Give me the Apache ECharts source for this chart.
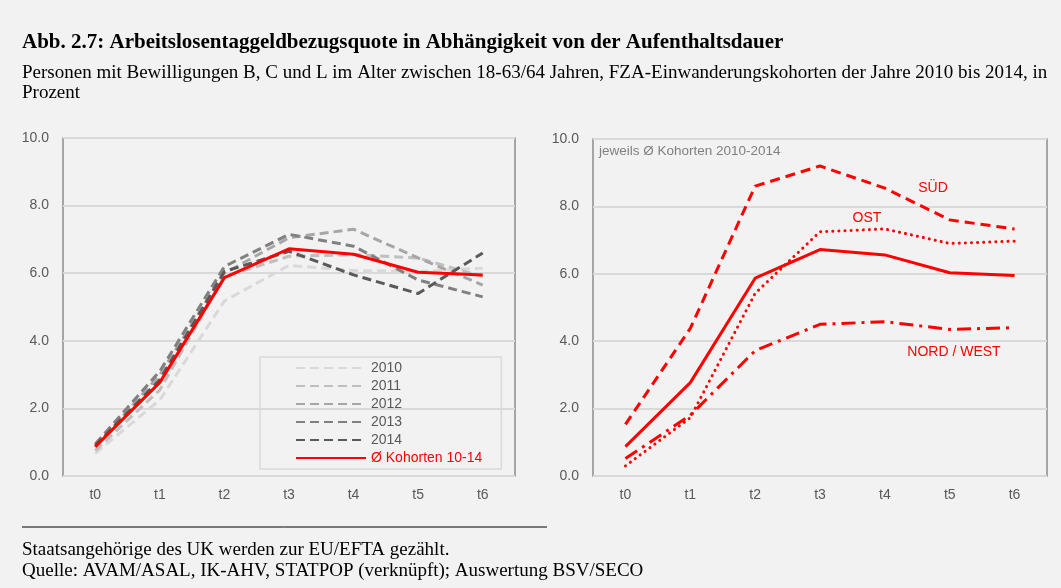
<!DOCTYPE html>
<html>
<head>
<meta charset="utf-8">
<script src="https://cdn.jsdelivr.net/npm/echarts@6/dist/echarts.min.js"></script>
<style>
  html, body { margin: 0; padding: 0; background: #f2f2f2; }
  #chart { width: 1061px; height: 588px; }
</style>
</head>
<body>
<div id="chart"></div>
<script>
const categories = ["t0", "t1", "t2", "t3", "t4", "t5", "t6"];

// linke Grafik: Kohorten
const k2010 = [0.67, 2.25, 5.18, 6.23, 6.08, 6.05, 6.15];
const k2011 = [0.75, 2.55, 5.9, 6.5, 6.55, 6.45, 5.9];
const k2012 = [0.85, 3.0, 6.0, 7.05, 7.3, 6.45, 5.65];
const k2013 = [0.95, 3.1, 6.2, 7.15, 6.8, 5.8, 5.3];
const k2014 = [0.9, 2.85, 6.05, 6.65, 5.95, 5.4, 6.6];
const avg = [0.87, 2.77, 5.87, 6.72, 6.56, 6.03, 5.95];

// rechte Grafik: Regionen
const sued = [1.53, 4.38, 8.6, 9.2, 8.54, 7.6, 7.33];
const ost = [0.3, 1.73, 5.42, 7.25, 7.33, 6.9, 6.97];
const nordWest = [0.52, 1.8, 3.72, 4.5, 4.58, 4.35, 4.4];

const yTicks = { min: 0, max: 10, interval: 2 };

const axisFont = "'Liberation Sans Narrow', 'Arial Narrow', Arial, sans-serif";
const serif = "'Liberation Serif', 'Times New Roman', serif";

function xAxis(idx) {
  return {
    type: "category",
    gridIndex: idx,
    data: categories,
    axisLine: { show: false },
    axisTick: { show: false },
    axisLabel: { color: "#595959", fontSize: 14, fontFamily: axisFont, margin: 12 },
  };
}
function yAxis(idx) {
  return {
    type: "value",
    gridIndex: idx,
    min: yTicks.min,
    max: yTicks.max,
    interval: yTicks.interval,
    axisLine: { show: false },
    axisTick: { show: false },
    axisLabel: {
      color: "#595959",
      fontSize: 14,
      fontFamily: axisFont,
      margin: 14,
      formatter: (v) => v.toFixed(1),
    },
    splitLine: { lineStyle: { color: "#d9d9d9", width: 2 } },
  };
}
function dashed(name, data, color) {
  return {
    name: name,
    type: "line",
    xAxisIndex: 0,
    yAxisIndex: 0,
    data: data,
    symbol: "none",
    lineStyle: { color: color, width: 3, type: [9, 5] },
    itemStyle: { color: color },
    z: 2,
  };
}

const myChart = echarts.init(document.getElementById("chart"));
const option = {
  backgroundColor: "#f2f2f2",
  animation: false,
  title: [
    {
      text: "Abb. 2.7: Arbeitslosentaggeldbezugsquote in Abhängigkeit von der Aufenthaltsdauer",
      left: 22,
      top: 32,
      padding: 0,
      textStyle: { fontFamily: serif, fontSize: 21, fontWeight: "bold", color: "#000", lineHeight: 22 },
    },
    {
      text:
        "Personen mit Bewilligungen B, C und L im Alter zwischen 18-63/64 Jahren, FZA-Einwanderungskohorten der Jahre 2010 bis 2014, in\nProzent",
      left: 22,
      top: 63,
      padding: 0,
      textStyle: { fontFamily: serif, fontSize: 19, fontWeight: "normal", color: "#000", lineHeight: 20 },
    },
    {
      text: "Staatsangehörige des UK werden zur EU/EFTA gezählt.\nQuelle: AVAM/ASAL, IK-AHV, STATPOP (verknüpft); Auswertung BSV/SECO",
      left: 22,
      top: 540,
      padding: 0,
      textStyle: { fontFamily: serif, fontSize: 19, fontWeight: "normal", color: "#000", lineHeight: 21 },
    },
  ],
  grid: [
    { left: 63, top: 138, width: 452, height: 338, show: true, borderColor: "#8c8c8c", borderWidth: 1.5, backgroundColor: "transparent" },
    { left: 593, top: 139, width: 454, height: 337, show: true, borderColor: "#8c8c8c", borderWidth: 1.5, backgroundColor: "transparent" },
  ],
  xAxis: [xAxis(0), xAxis(1)],
  yAxis: [yAxis(0), yAxis(1)],
  legend: {
    left: 260,
    top: 357,
    orient: "vertical",
    itemWidth: 70,
    itemHeight: 14,
    itemGap: 4,
    padding: [4, 19, 4, 35],
    borderColor: "#d9d9d9",
    borderWidth: 1.5,
    itemStyle: { opacity: 0 },
    textStyle: { color: "#595959", fontSize: 14, fontFamily: axisFont },
    data: [
      "2010",
      "2011",
      "2012",
      "2013",
      "2014",
      { name: "Ø Kohorten 10-14", textStyle: { color: "#ff0000" } },
    ],
  },
  graphic: [
    {
      type: "text",
      left: 599,
      top: 144,
      style: { text: "jeweils Ø Kohorten 2010-2014", fill: "#808080", fontSize: 13.5, fontFamily: axisFont },
    },
    {
      type: "text",
      x: 933,
      y: 188,
      style: { text: "SÜD", fill: "#ff0000", fontSize: 14, fontFamily: axisFont, align: "center", verticalAlign: "middle" },
    },
    {
      type: "text",
      x: 867,
      y: 218,
      style: { text: "OST", fill: "#ff0000", fontSize: 14, fontFamily: axisFont, align: "center", verticalAlign: "middle" },
    },
    {
      type: "text",
      x: 954,
      y: 352,
      style: { text: "NORD / WEST", fill: "#ff0000", fontSize: 14, fontFamily: axisFont, align: "center", verticalAlign: "middle" },
    },
    {
      type: "line",
      shape: { x1: 22, y1: 527, x2: 547, y2: 527 },
      style: { stroke: "#000", lineWidth: 1 },
    },
  ],
  series: [
    dashed("2010", k2010, "#d9d9d9"),
    dashed("2011", k2011, "#bfbfbf"),
    dashed("2012", k2012, "#a6a6a6"),
    dashed("2013", k2013, "#808080"),
    dashed("2014", k2014, "#595959"),
    {
      name: "Ø Kohorten 10-14",
      type: "line",
      xAxisIndex: 0,
      yAxisIndex: 0,
      data: avg,
      symbol: "none",
      lineStyle: { color: "#ff0000", width: 3 },
      itemStyle: { color: "#ff0000" },
      z: 3,
    },
    {
      name: "SÜD",
      type: "line",
      xAxisIndex: 1,
      yAxisIndex: 1,
      data: sued,
      symbol: "none",
      lineStyle: { color: "#ff0000", width: 3, type: [10, 6] },
    },
    {
      name: "OST",
      type: "line",
      xAxisIndex: 1,
      yAxisIndex: 1,
      data: ost,
      symbol: "none",
      lineStyle: { color: "#ff0000", width: 3, type: [0.1, 6], cap: "round" },
    },
    {
      name: "NORD / WEST",
      type: "line",
      xAxisIndex: 1,
      yAxisIndex: 1,
      data: nordWest,
      symbol: "none",
      lineStyle: { color: "#ff0000", width: 3, type: [14, 6, 3, 6] },
    },
    {
      name: "Ø",
      type: "line",
      xAxisIndex: 1,
      yAxisIndex: 1,
      data: avg,
      symbol: "none",
      lineStyle: { color: "#ff0000", width: 3 },
    },
  ],
};
myChart.setOption(option);

window.addEventListener("resize", function () {
  myChart.resize();
});
</script>
</body>
</html>
